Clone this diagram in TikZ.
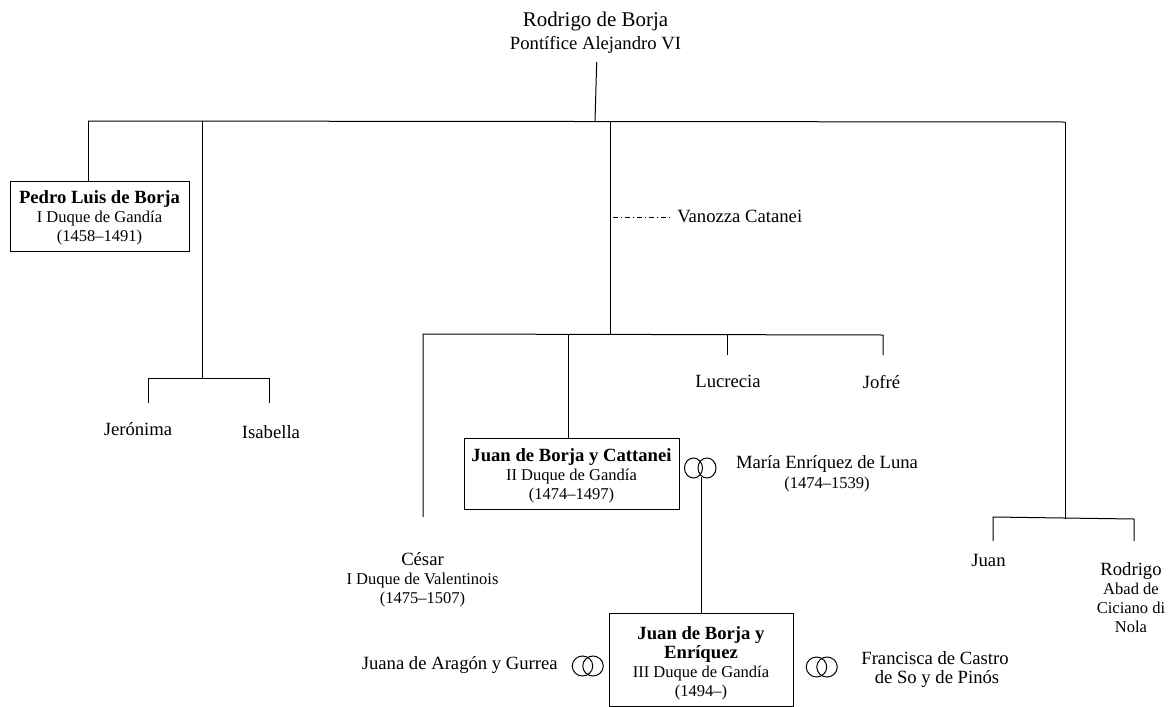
\documentclass[tikz,border=0pt]{standalone}
\usepackage{fontspec}
\setmainfont{Liberation Serif}
\usetikzlibrary{shapes.geometric}
\newcommand{\topface}{\fontsize{15.7}{14.25}\selectfont}
\newcommand{\nameface}{\fontsize{14}{14.25}\selectfont}
\newcommand{\titleface}{\fontsize{12.4}{14.25}\selectfont}
\tikzset{
  person/.style={align=center, inner sep=0pt, anchor=base, font=\titleface},
  personbox/.style={person, draw=black, line width=.75pt, text depth=7.5pt},
  ring/.style={ellipse, draw=black, line width=.75pt, minimum width=18*.75pt, minimum height=20*.75pt, inner sep=0pt},
  ringwide/.style={ring, minimum width=20.5*.75pt},
  line/.style={draw=black, line width=.75pt}
}

\begin{document}
\begin{tikzpicture}[x=.75pt, y=-.75pt]
  \useasboundingbox (0,0) rectangle (1175,707);

  % people
  \node[person, font=\nameface] at (595.5,49) (rodrigo) {{\topface Rodrigo de Borja}\\[2.6pt]Pontífice Alejandro VI};
  \node[personbox, minimum width=179*.75pt, text height=45pt] at (99.5,241) (pedro) {{\nameface\bfseries Pedro Luis de Borja}\\I Duque de Gandía\\(1458–1491)};
  \node[person, font=\nameface] at (138,435) (jeronima) {Jerónima};
  \node[person, font=\nameface] at (271,438) (isabella) {Isabella};
  \node[person, anchor=base west, font=\nameface] at (677,222) (vanozza) {Vanozza Catanei};
  \node[person, font=\nameface] at (728,387) (lucrecia) {Lucrecia};
  \node[person, font=\nameface] at (881.5,388) (jofre) {Jofré};
  \node[personbox, minimum width=215*.75pt, text height=45.75pt] at (571.5,499) (juanc) {{\nameface\bfseries Juan de Borja y Cattanei}\\II Duque de Gandía\\(1474–1497)};
  \node[person] at (827,488) (maria) {{\nameface María Enríquez de Luna}\\[.75pt](1474–1539)};
  \node[person] at (422.5,603) (cesar) {{\nameface César}\\I Duque de Valentinois\\(1475–1507)};
  \node[personbox, minimum width=184*.75pt, text height=62.25pt] at (701,696) (juane) {{\nameface\bfseries Juan de Borja y}\\{\nameface\bfseries Enríquez}\\III Duque de Gandía\\(1494–)};
  \node[person, anchor=base east, font=\nameface] at (558,669) (juana) {Juana de Aragón y Gurrea};
  \node[person, font=\nameface] at (935,683) (francisca) {Francisca de Castro\\\hspace*{3pt}de So y de Pinós};
  \node[person, font=\nameface] at (988.5,566) (juan) {Juan};
  \node[person] at (1131,632) (rodrigoh) {{\nameface Rodrigo}\\Abad de\\Ciciano di\\Nola};

  % rings
  \node[ring] at (693.5,468) (ringa) {};
  \node[ring] at (707,468) (ringb) {};
  \node[ringwide] at (582.5,666) (ringc) {};
  \node[ringwide] at (593,666) (ringd) {};
  \node[ringwide] at (816.5,667) (ringe) {};
  \node[ringwide] at (827,667) (ringf) {};

  % joints
  \coordinate (top) at (596.7,62);
  \coordinate (barleft) at (88,121);
  \coordinate (barmid) at (595,121.5);
  \coordinate (barright) at (1065,122);
  \coordinate (barhija) at (202,121);
  \coordinate (barvan) at (610,121.5);
  \coordinate (hijaj) at (202,378);
  \coordinate (hijal) at (148,378);
  \coordinate (hijar) at (269,378);
  \coordinate (hijaldown) at (148,403);
  \coordinate (hijardown) at (269,403);
  \coordinate (vanj) at (610,334);
  \coordinate (vanl) at (423,334);
  \coordinate (vanr) at (883,335);
  \coordinate (vanj2) at (568,334);
  \coordinate (vanj3) at (727,334.5);
  \coordinate (lucdown) at (727,355);
  \coordinate (jofdown) at (883,355);
  \coordinate (cesdown) at (423,517);
  \coordinate (dashl) at (613,217);
  \coordinate (dashr) at (670,217);
  \coordinate (ringj) at (701,477);
  \coordinate (juanj) at (1065,518.5);
  \coordinate (juanl) at (993,517);
  \coordinate (juanr) at (1134,519);
  \coordinate (juanldown) at (993,541);
  \coordinate (juanrdown) at (1134,541);

  % lines
  \draw[line] (top)--(barmid);
  \draw[line] (barleft)--(barright);
  \draw[line] (barleft)--(barleft |- pedro.north);
  \draw[line] (barhija)--(hijaj);
  \draw[line] (hijaldown)--(hijal)--(hijar)--(hijardown);
  \draw[line] (barvan)--(vanj);
  \draw[line, line width=.6pt, dash pattern=on 4pt off 2pt on 1pt off 2pt] (dashl)--(dashr);
  \draw[line] (cesdown)--(vanl)--(vanr)--(jofdown);
  \draw[line] (vanj2)--(vanj2 |- juanc.north);
  \draw[line] (vanj3)--(lucdown);
  \draw[line] (ringj)--(ringj |- juane.north);
  \draw[line] (barright)--(juanj);
  \draw[line] (juanldown)--(juanl)--(juanr)--(juanrdown);
\end{tikzpicture}
\end{document}
